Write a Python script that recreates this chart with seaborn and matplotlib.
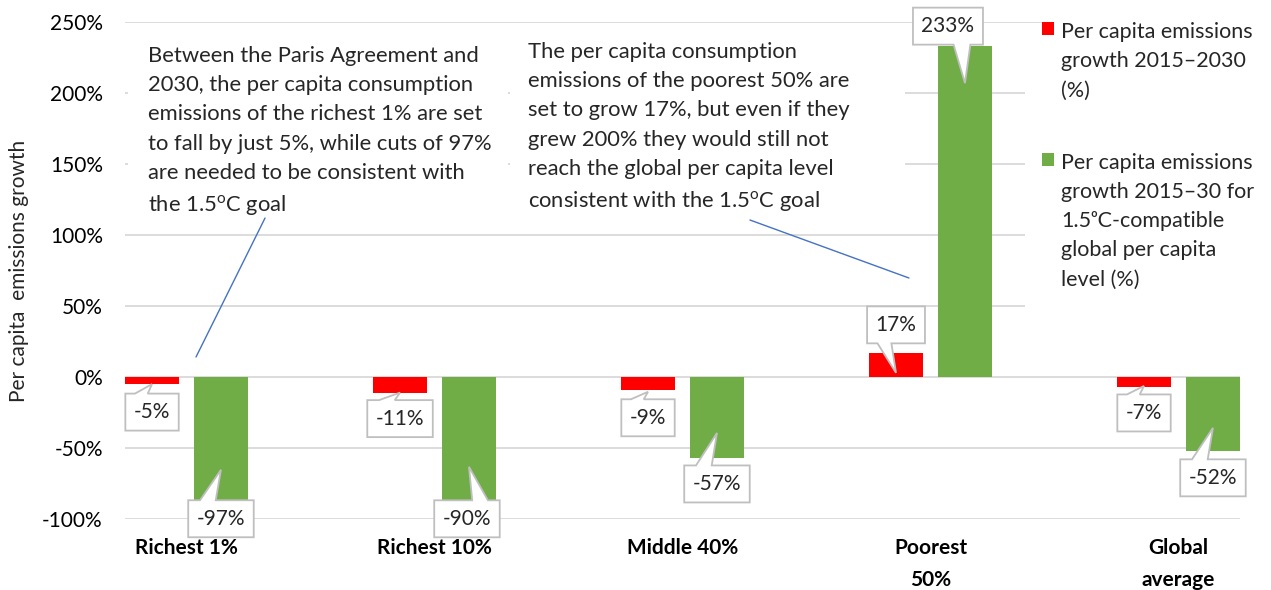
import matplotlib
matplotlib.use("Agg")
import matplotlib.pyplot as plt
import matplotlib.transforms as mtransforms
from matplotlib.patches import Polygon, Rectangle
import pandas as pd
import seaborn as sns

# data
groups = ["Richest 1%", "Richest 10%", "Middle 40%", "Poorest\n50%", "Global\naverage"]
growth_2030 = [-5, -11, -9, 17, -7]
growth_15c = [-97, -90, -57, 233, -52]
deg = r"$^{\mathregular{o}}$"
series = [
    "Per capita emissions\ngrowth 2015–2030\n(%)",
    "Per capita emissions\ngrowth 2015–30 for\n1.5ᵒC-compatible\nglobal per capita\nlevel (%)",
]
colors = ["#ff0000", "#70ad47"]
ytick_vals = [-100, -50, 0, 50, 100, 150, 200, 250]
ytick_labels = ["-100%", "-50%", "0%", "50%", "100%", "150%", "200%", "250%"]

note_rich = ("Between the Paris Agreement and\n2030, the per capita consumption\n"
             "emissions of the richest 1% are set\nto fall by just 5%, while cuts of 97%\n"
             "are needed to be consistent with\nthe 1.5" + deg + "C goal")
note_poor = ("The per capita consumption\nemissions of the poorest 50% are\n"
             "set to grow 17%, but even if they\ngrew 200% they would still not\n"
             "reach the global per capita level\nconsistent with the 1.5" + deg + "C goal")

# callout placement in pixels (box dx, box dy, tip dx, tip dy), y pointing down
callouts = [
    [(0, 28, 0, 0), (0, 26, 0, 0), (0, 28, 0, 2), (0, -28, 0, 20), (0, 26, 0, -1)],
    [(0, 4, 0, -45), (-2, 14, 0, -38), (0, 26, 0, -25), (-17, -20, 0, 37), (0, 27, 0, -23)],
]

df = pd.DataFrame({
    "group": groups * 2,
    "series": [series[0]] * len(groups) + [series[1]] * len(groups),
    "value": growth_2030 + growth_15c,
})

sns.set_style("white")
plt.rcParams["font.family"] = ["Lato", "DejaVu Sans"]

W, H = 1271, 590
fig = plt.figure(figsize=(W / 100, H / 100), dpi=100)
ax = fig.add_axes([125 / W, 71 / H, 1115 / W, 497 / H])

sns.barplot(data=df, x="group", y="value", hue="series", order=groups,
            hue_order=series, palette=colors, saturation=1, width=0.556, gap=0.216,
            linewidth=0, errorbar=None, ax=ax)

ax.set_xlim(-0.248, 4.248)
ax.set_ylim(-100, 250)
ax.set_yticks(ytick_vals, ytick_labels)
ax.set_xlabel("")
ax.set_ylabel("Per capita  emissions growth", fontsize=15)
ax.yaxis.set_label_coords(-0.086, 0.5)
ax.grid(axis="y", color="#d9d9d9", lw=1.3)
ax.set_axisbelow(True)
sns.despine(ax=ax, left=True, bottom=True)
ax.tick_params(axis="y", length=0, pad=16, labelsize=15, labelcolor="black")
ax.tick_params(axis="x", length=0, pad=14, labelsize=15, labelcolor="black")
for lab in ax.get_xticklabels():
    lab.set_fontweight("bold")
    lab.set_linespacing(1.75)

# white backgrounds of the text boxes (hide gridlines behind them)
for x0, x1 in [(0.0027, 0.3435), (0.345, 0.6996)]:
    ax.add_patch(Rectangle((x0, 0.5815), x1 - x0, 0.99 - 0.5815, transform=ax.transAxes,
                           fc="white", ec="none", zorder=0.8))
ax.text(0.0206, 0.7787, note_rich, transform=ax.transAxes, ha="left", va="center",
        fontsize=15.8, linespacing=1.58, zorder=3)
ax.text(0.3614, 0.7867, note_poor, transform=ax.transAxes, ha="left", va="center",
        fontsize=15.8, linespacing=1.58, zorder=3)
ax.plot([0.1256, 0.0637], [0.6056, 0.326], transform=ax.transAxes, color="#4472c4", lw=1)
ax.plot([0.5605, 0.7031], [0.6016, 0.4849], transform=ax.transAxes, color="#4472c4", lw=1)

# callout labels
renderer = fig.canvas.get_renderer()
for container, offs in zip(ax.containers, callouts):
    for bar, (bdx, bdy, adx, ady) in zip(container, offs):
        x = bar.get_x() + bar.get_width() / 2
        y = bar.get_y() + bar.get_height()
        tr = mtransforms.ScaledTranslation(x, y, ax.transData)
        cx, cy = bdx, -bdy
        px, py = adx, -ady
        txt = ax.text(cx, cy, f"{round(bar.get_height())}%", transform=tr, ha="center",
                      va="center", fontsize=15, zorder=7, clip_on=False)
        w = txt.get_window_extent(renderer).width + 17
        h = 37
        l, r, b, t = cx - w / 2, cx + w / 2, cy - h / 2, cy + h / 2
        if px > cx + 1:
            b1, b2 = cx + 0.08 * w, cx + 0.32 * w
        else:
            b1, b2 = cx - 0.32 * w, cx - 0.08 * w
        if py > t:
            verts = [(l, b), (l, t), (b1, t), (px, py), (b2, t), (r, t), (r, b)]
        else:
            verts = [(l, t), (r, t), (r, b), (b2, b), (px, py), (b1, b), (l, b)]
        ax.add_patch(Polygon(verts, closed=True, transform=tr, fc="white", ec="#bfbfbf",
                             lw=1.3, zorder=6, clip_on=False))

# legend
handles, labels = ax.get_legend_handles_labels()
if ax.legend_ is not None:
    ax.legend_.remove()
leg = ax.legend(handles, labels, loc="upper left", bbox_to_anchor=(1042 / W, 1 - 22 / H),
                bbox_transform=fig.transFigure, frameon=True, fancybox=False,
                edgecolor="none", facecolor="white", framealpha=1, fontsize=15.5,
                handlelength=0.56, handleheight=0.56, handletextpad=0.32,
                borderpad=0.0, labelspacing=2.42, borderaxespad=0)
for t in leg.get_texts():
    t.set_linespacing(1.58)
# put the colour square level with the first line of each entry
for col in leg._legend_handle_box.get_children():
    for item in col.get_children():
        item.align = "top"
leg.set_zorder(5)
# white area behind the legend hides the gridlines like the original
ax.add_patch(Rectangle((1025 / W, 1 - 312 / H), 218 / W, 288 / H, transform=fig.transFigure,
                       fc="white", ec="none", zorder=0.8))

fig.savefig("out.png", dpi=100)
